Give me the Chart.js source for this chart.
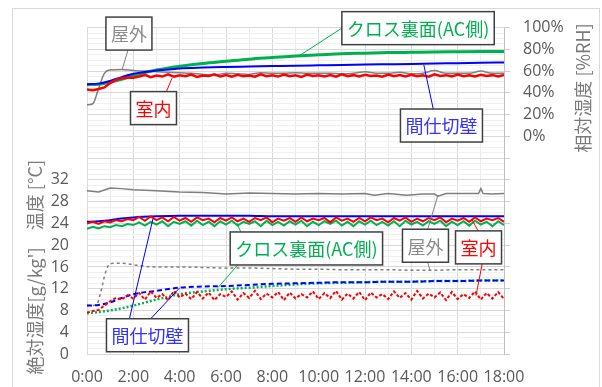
<!DOCTYPE html>
<html>
<head>
<meta charset="utf-8">
<script src="https://cdn.jsdelivr.net/npm/chart.js@4.4.1/dist/chart.umd.min.js"></script>
<style>
  body { margin: 0; background: #fff; }
  #wrap { width: 602px; height: 387px; }
</style>
</head>
<body>
<div id="wrap"><canvas id="c"></canvas></div>
<script>
// time axis (hours)
var hrs = [0,0.5,1,1.5,2,3,4,5,6,7,8,9,10,11,12,13,14,15,16,17,18];
var tFine = [0,0.25,0.5,0.75,1,1.25,1.5,1.75,2,2.25,2.5,2.75,3,3.25,3.5,3.75,4,4.25,4.5,4.75,5,5.25,5.5,5.75,6,6.25,6.5,6.75,7,7.25,7.5,7.75,8,8.25,8.5,8.75,9,9.25,9.5,9.75,10,10.25,10.5,10.75,11,11.25,11.5,11.75,12,12.25,12.5,12.75,13,13.25,13.5,13.75,14,14.25,14.5,14.75,15,15.25,15.5,15.75,16,16.25,16.5,16.75,17,17.25,17.5,17.75,18];

// relative humidity [%RH]
var outRhT = [0,0.25,0.5,0.75,1,1.5,2,2.5,3,3.5,4,4.5,5,5.5,6,6.5,7,7.5,8,8.5,9,9.5,10,10.5,11,11.5,12,12.5,13,13.5,14,14.5,15,15.5,16,16.5,17,17.5,18];
var outRh = [29,30,44,58,61,61.5,60.5,60,59.5,59,58.5,58,57,56.5,58,57.5,57,58.5,58,58,58.5,58,58,58,57.5,58,59.5,58,58,59,57.5,58,60.5,58,58,58,60,58,58];
var roomRh = [43,42.5,43.5,45,49,52,53.5,54,54,
  55,56.5,54.5,56,55,57,54.8,56.2, 55.3,56.8,54.7,56,55.5,57,55,56.3,
  54.9,56.6,55.2,56,54.8,57,55.4,56.2, 55,56.8,55.3,56.1,54.7,56.9,55.6,56.2,
  55,56.5,54.9,57,55.4,56.3,55.1,56.7, 55.5,56,54.8,56.9,55.4,56.4,55,56.6,
  55.3,56.1,54.9,57,55.6,56.3,55.2,56.8, 55.4,56.2,55,56.7,55.5,56.3,55.1,56.5];
var crossRh = [47.5,48,50,52.5,56,61,64.5,67,69,71,72.5,74,75,76,76.5,77,77.3,77.6,77.8,78,78];
var wallRh = [48,48.5,51,54.5,57.5,60.5,62.5,63.3,63.8,64.2,64.6,65,65.3,65.6,66,66.3,66.6,67,67.3,67.7,68];

// temperature [°C]
var outTT = [0,0.5,1,1.5,2,3,4,5,6,7,8,9,10,11,12,12.4,13,13.8,14.5,15,15.15,15.5,16,16.9,17,17.1,17.5,18];
var outTemp = [30.0,29.8,30.5,30.4,30.2,30.0,29.8,29.7,29.4,29.6,29.5,29.4,29.5,29.4,29.5,29.2,29.5,29.2,29.4,29.4,29.0,29.5,29.5,29.5,30.4,29.5,29.4,29.5];
var roomTemp = [24.0,24.3,23.9,24.4,24.2,24.6,24.4,24.8,24.6,
  25.2,24.5,25.3,24.6,25.1,24.4,25.2,24.5, 25.0,24.3,25.1,24.6,24.9,24.2,25.0,24.5,
  25.1,24.4,24.9,24.3,25.0,24.6,25.1,24.2, 24.9,24.5,25.0,24.3,25.1,24.4,24.9,24.6,
  25.0,24.2,25.1,24.5,24.9,24.3,25.0,24.4, 25.1,24.6,24.9,24.2,25.0,24.5,25.1,24.3,
  24.9,24.4,25.0,24.6,25.1,24.2,24.9,24.5, 25.0,24.3,25.1,24.4,24.9,24.6,25.0,24.3];
var crossTemp = [23.0,23.4,23.1,23.5,23.3,23.7,23.5,23.9,23.7,
  24.2,23.6,24.3,23.8,24.4,23.5,24.3,23.9, 24.4,23.6,24.5,23.7,24.3,23.5,24.4,23.8,
  24.5,23.6,24.3,23.9,24.4,23.5,24.5,23.7, 24.3,23.6,24.4,23.8,24.5,23.5,24.3,23.7,
  24.4,23.9,24.5,23.6,24.3,23.5,24.4,23.8, 24.5,23.7,24.3,23.6,24.4,23.5,24.5,23.8,
  24.3,23.6,24.4,23.9,24.5,23.5,24.3,23.7, 24.4,23.6,24.5,23.8,24.3,23.5,24.4,23.7];
var wallTemp = [24.3,24.4,24.6,24.9,25.1,25.3,25.4,25.4,25.4,25.4,25.3,25.3,25.3,25.3,25.3,25.3,25.3,25.3,25.3,25.3,25.3];

// absolute humidity [g/kg']
var outAhT = [0,0.4,0.6,0.8,1,1.5,2,3,4,5,6,7,8,9,10,11,12,13,14,15,16,17,18];
var outAh = [8.9,9.0,11.5,15.0,16.6,16.7,16.4,16.0,16.0,15.9,15.8,15.8,15.7,15.6,15.6,15.5,15.5,15.5,15.4,15.4,15.5,15.5,15.5];
var roomAh = [7.6,7.9,8.1,8.9,9.7,10.3,10.0,10.8,10.2,
  11.2,10.0,11.5,10.3,11.0,9.9,11.6,10.4, 11.1,10.1,11.4,10.2,11.3,9.9,11.0,10.5,
  11.5,10.0,11.2,10.3,11.6,10.1,11.1,10.4, 11.4,9.9,11.3,10.2,11.0,10.4,11.5,10.1,
  11.2,10.3,11.6,10.0,11.1,10.2,11.4,9.9, 11.3,10.4,11.0,10.1,11.5,10.3,11.2,10.0,
  11.6,10.2,11.1,10.4,11.3,9.9,11.4,10.1, 11.0,10.3,11.5,10.0,11.2,10.2,11.4,10.1];
var crossAh = [7.5,7.7,8.0,8.4,8.9,10.0,11.0,11.5,11.9,12.2,12.5,12.8,13.0,13.1,13.2,13.3,13.3,13.4,13.4,13.5,13.5];
var wallAh = [8.9,9.0,9.5,10.3,11.0,11.6,12.2,12.4,12.5,12.7,12.9,13.0,13.1,13.2,13.2,13.3,13.3,13.4,13.4,13.5,13.5];

var RED = '#ff0000', BLUE = '#0000ff', GREEN = '#00b050', GRAY = '#7f7f7f';

function pts(t, v) {
  return t.map(function(x, i) { return {x: x, y: v[i]}; });
}
function line(t, v, axis, color, width, dash, smooth) {
  return {
    data: pts(t, v), yAxisID: axis, borderColor: color, borderWidth: width,
    borderDash: dash || [], pointRadius: 0, fill: false,
    cubicInterpolationMode: smooth ? 'monotone' : 'default', tension: 0
  };
}

// callout boxes: centre in (hours, left axis value), leaders go to a point on a line
var notes = [
  {text: '屋外', color: '#8c8c8c', x: 1.81, y: 58.9, leads: [
    {from: [0.48, 1], x: 1.51, y: 61, axis: 'yR', color: GRAY}]},
  {text: '室内', color: RED, x: 2.87, y: 45.2, leads: [
    {from: [0.78, 0], x: 3.67, y: 53.5, axis: 'yR', color: RED}]},
  {text: 'クロス裏面(AC側)', color: GREEN, x: 14.29, y: 59.9, leads: [
    {from: [0, 0.5], x: 9.19, y: 74.5, axis: 'yR', color: GREEN}]},
  {text: '間仕切壁', color: '#3333ff', x: 15.3, y: 42.0, leads: [
    {from: [0.4, 0], x: 14.54, y: 65.6, axis: 'yR', color: BLUE}]},
  {text: 'クロス裏面(AC側)', color: GREEN, x: 9.47, y: 19.4, leads: [
    {from: [0.07, 0], x: 6.47, y: 24.0, axis: 'y', color: GREEN},
    {from: [0.05, 1], x: 5.65, y: 12.2, axis: 'y', color: GREEN}]},
  {text: '屋外', color: '#8c8c8c', x: 14.61, y: 19.9, leads: [
    {from: [0.55, 0], x: 15.15, y: 29.2, axis: 'y', color: GRAY},
    {from: [0.55, 1], x: 14.8, y: 15.4, axis: 'y', color: GRAY}]},
  {text: '室内', color: RED, x: 16.9, y: 19.6, leads: [
    {from: [0.49, 0], x: 16.62, y: 24.7, axis: 'y', color: RED},
    {from: [0.58, 1], x: 16.79, y: 10.7, axis: 'y', color: RED}]},
  {text: '間仕切壁', color: '#3333ff', x: 2.61, y: 3.45, leads: [
    {from: [0.28, 0], x: 2.85, y: 24.9, axis: 'y', color: BLUE},
    {from: [0.54, 0], x: 4.01, y: 12.2, axis: 'y', color: BLUE}]}
];

var frame = {
  id: 'frame',
  beforeDraw: function(chart) {
    var c = chart.ctx;
    c.save();
    c.fillStyle = '#fff';
    c.fillRect(0, 0, chart.width, chart.height);
    c.strokeStyle = '#d9d9d9';
    c.lineWidth = 1;
    c.strokeRect(12.5, 8.5, 587, 400);
    c.restore();
  },
  afterDraw: function(chart) {
    var c = chart.ctx, sx = chart.scales.x, sy = chart.scales.y, sr = chart.scales.yR;
    c.save();
    c.font = '18px "Noto Sans CJK JP"';
    notes.forEach(function(n) {
      var w = c.measureText(n.text).width + 10, h = 33;
      var cx = sx.getPixelForValue(n.x), cy = sy.getPixelForValue(n.y);
      var l = cx - w / 2, t = cy - h / 2;
      n.leads.forEach(function(d) {
        var ax = d.axis === 'yR' ? sr : sy;
        c.beginPath();
        c.strokeStyle = d.color;
        c.lineWidth = 1;
        c.moveTo(l + d.from[0] * w, t + d.from[1] * h);
        c.lineTo(sx.getPixelForValue(d.x), ax.getPixelForValue(d.y));
        c.stroke();
      });
      c.fillStyle = '#fff';
      c.fillRect(l, t, w, h);
      c.strokeStyle = '#404040';
      c.lineWidth = 1.5;
      c.strokeRect(l, t, w, h);
      c.fillStyle = n.color;
      c.textAlign = 'center';
      c.textBaseline = 'middle';
      c.fillText(n.text, cx, cy + 1);
    });

    // axis titles (all read bottom to top)
    c.fillStyle = '#7a7a7a';
    c.font = '18px "Noto Sans CJK JP"';
    c.textAlign = 'center';
    c.textBaseline = 'middle';
    [["絶対湿度[g/kg']", 35, 311], ['温度 [°C]', 35, 195], ['相対湿度 [%RH]', 583, 88]].forEach(function(s) {
      c.save();
      c.translate(s[1], s[2]);
      c.rotate(-Math.PI / 2);
      c.fillText(s[0], 0, 0);
      c.restore();
    });
    c.restore();
  }
};

Chart.defaults.font.family = "'Open Sans', 'Noto Sans CJK JP', sans-serif";
Chart.defaults.font.size = 16;
Chart.defaults.color = '#595959';

new Chart(document.getElementById('c'), {
  type: 'line',
  data: {
    datasets: [
      line(tFine, roomRh, 'yR', RED, 2.5),
      line(hrs, wallRh, 'yR', BLUE, 2, null, true),
      line(hrs, crossRh, 'yR', GREEN, 3, null, true),
      line(outRhT, outRh, 'yR', GRAY, 1.5, null, true),
      line(tFine, roomTemp, 'y', RED, 2),
      line(hrs, wallTemp, 'y', BLUE, 2, null, true),
      line(tFine, crossTemp, 'y', GREEN, 2),
      line(outTT, outTemp, 'y', GRAY, 1.5),
      line(tFine, roomAh, 'y', RED, 2, [3, 2]),
      line(hrs, wallAh, 'y', BLUE, 2, [5, 3], true),
      line(hrs, crossAh, 'y', GREEN, 2.5, [2, 2], true),
      line(outAhT, outAh, 'y', GRAY, 1.5, [3, 3], true)
    ]
  },
  options: {
    responsive: true,
    maintainAspectRatio: false,
    animation: false,
    layout: { padding: { top: 24, left: 0, right: 0, bottom: 0 } },
    plugins: { legend: { display: false }, tooltip: { enabled: false } },
    scales: {
      x: {
        type: 'linear', min: 0, max: 18,
        afterFit: function(s) { s.height = 33; },
        border: { color: '#d9d9d9' },
        grid: {
          drawTicks: false,
          color: function(ctx) { return ctx.tick && ctx.tick.value % 2 === 0 ? '#d9d9d9' : '#ececec'; }
        },
        ticks: {
          stepSize: 1, autoSkip: false, maxRotation: 0, padding: 14,
          callback: function(v) { return v % 2 === 0 ? v + ':00' : ''; }
        }
      },
      y: {
        position: 'left', min: 0, max: 60,
        afterFit: function(s) { s.width = 87; },
        border: { color: '#d9d9d9' },
        grid: {
          drawTicks: false,
          color: function(ctx) { return ctx.tick && ctx.tick.value % 4 === 0 ? '#d9d9d9' : '#f0f0f0'; }
        },
        ticks: {
          stepSize: 1, autoSkip: false, padding: 18,
          callback: function(v) { return (v % 4 === 0 && v <= 32) ? v : ''; }
        }
      },
      yR: {
        position: 'right', min: -200, max: 100,
        afterFit: function(s) { s.width = 98; },
        border: { color: '#bfbfbf' },
        grid: { drawOnChartArea: false, tickLength: 6, color: '#d0d0d0' },
        ticks: {
          stepSize: 20, autoSkip: false, padding: 13,
          callback: function(v) { return v >= 0 ? v + '%' : ''; }
        }
      }
    }
  },
  plugins: [frame]
});
</script>
</body>
</html>
